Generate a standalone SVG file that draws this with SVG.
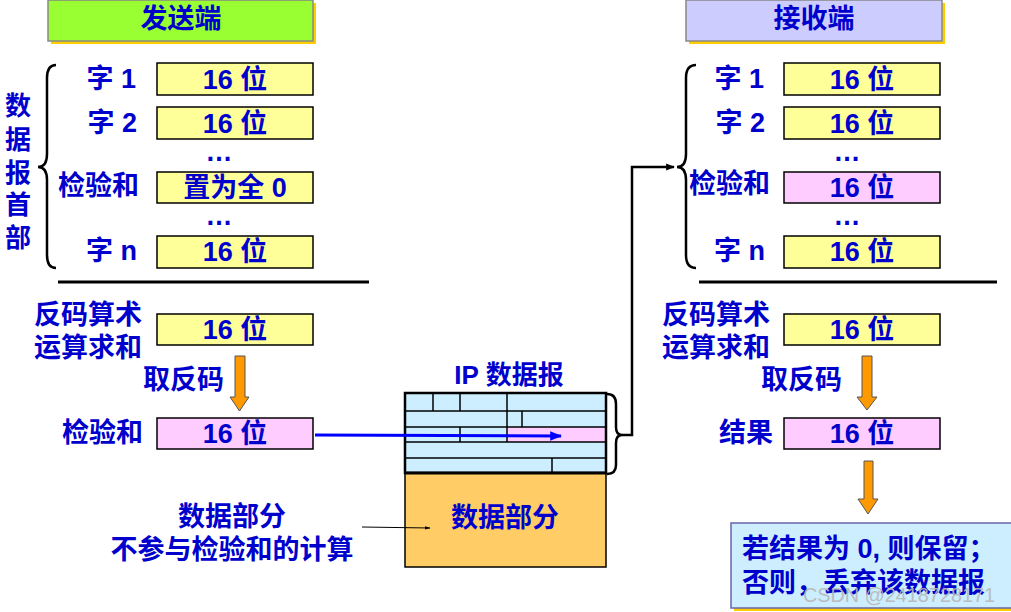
<svg xmlns="http://www.w3.org/2000/svg" width="1011" height="612" viewBox="0 0 1011 612">
  <defs>
    <style>
      .t { font-family: "Liberation Sans", "Noto Sans CJK SC", sans-serif; font-weight: bold; fill: #0000cc; font-size: 27px; dominant-baseline: central; }
      .c { text-anchor: middle; }
      .e { text-anchor: end; }
      .cell { stroke: #000; stroke-width: 1.5; }
      .y { fill: #ffff99; }
      .p { fill: #ffccff; }
      .brace { fill: none; stroke: #000; stroke-width: 2.5; }
      .arrow { fill: #ff9900; stroke: #555; stroke-width: 1; }
      .rule { stroke: #000; stroke-width: 3; }
      .hdr { fill: #cceeff; }
      .grid { stroke: #000; stroke-width: 1.5; fill: none; }
      .wm { font-family: "Liberation Sans", Arial, sans-serif; font-size: 21px; fill: #b8b8b8; opacity: 0.9; }
    </style>
    <marker id="ahBlue" viewBox="0 0 10 10" refX="9" refY="5" markerWidth="4" markerHeight="4" orient="auto">
      <path d="M0,1 L10,5 L0,9 Z" fill="#0000ff"/>
    </marker>
    <marker id="ahBlack" viewBox="0 0 10 10" refX="9" refY="5" markerWidth="6" markerHeight="6" orient="auto">
      <path d="M0,2 L10,5 L0,8 Z" fill="#000"/>
    </marker>
    <marker id="ahBlackThick" viewBox="0 0 10 10" refX="9" refY="5" markerWidth="3.5" markerHeight="3.5" orient="auto">
      <path d="M0,1 L10,5 L0,9 Z" fill="#000"/>
    </marker>
  </defs>

  <rect width="1011" height="612" fill="#ffffff"/>

  <!-- Sender title -->
  <g id="sender-title">
    <rect x="51" y="3" width="265" height="41" fill="#ffcc00"/>
    <rect x="48" y="0" width="265" height="41" fill="#99ff33" stroke="#888" stroke-width="1.5"/>
    <text class="t c" x="181" y="19">发送端</text>
  </g>

  <!-- Receiver title -->
  <g id="receiver-title">
    <rect x="689" y="3" width="256" height="41" fill="#ffcc00"/>
    <rect x="686" y="0" width="256" height="41" fill="#ccccff" stroke="#888" stroke-width="1.5"/>
    <text class="t c" x="814" y="19">接收端</text>
  </g>

  <!-- Sender header words -->
  <g id="sender-header">
    <text class="t c" x="18" y="106" style="font-size:26px">数</text>
    <text class="t c" x="18" y="140" style="font-size:26px">据</text>
    <text class="t c" x="18" y="173" style="font-size:26px">报</text>
    <text class="t c" x="18" y="205" style="font-size:26px">首</text>
    <text class="t c" x="18" y="238" style="font-size:26px">部</text>
    <path class="brace" d="M56,65 Q47,65 47,78 L47,154 Q47,167 38,167 Q47,167 47,180 L47,255 Q47,268 56,268"/>

    <text class="t e" x="136" y="79">字 1</text>
    <rect class="cell y" x="157" y="63" width="156" height="32"/>
    <text class="t c" x="235" y="80">16 位</text>

    <text class="t e" x="137" y="123">字 2</text>
    <rect class="cell y" x="157" y="107" width="156" height="32"/>
    <text class="t c" x="235" y="124">16 位</text>

    <text class="t c" x="219" y="152">…</text>

    <text class="t e" x="139" y="186">检验和</text>
    <rect class="cell y" x="157" y="172" width="156" height="31"/>
    <text class="t c" x="235" y="188">置为全 0</text>

    <text class="t c" x="219" y="216">…</text>

    <text class="t e" x="137" y="251">字 n</text>
    <rect class="cell y" x="157" y="236" width="156" height="32"/>
    <text class="t c" x="235" y="252">16 位</text>

    <line class="rule" x1="58" y1="282" x2="369" y2="282"/>
  </g>

  <!-- Sender checksum computation -->
  <g id="sender-sum">
    <text class="t e" x="142" y="315">反码算术</text>
    <text class="t e" x="142" y="348">运算求和</text>
    <rect class="cell y" x="157" y="314" width="156" height="31"/>
    <text class="t c" x="235" y="330">16 位</text>
    <text class="t e" x="224" y="380">取反码</text>
    <path class="arrow" d="M235,356 L245,356 L245,397 L249,397 L239.5,411 L230,397 L235,397 Z"/>
  </g>

  <g id="sender-checksum">
    <text class="t e" x="143" y="433">检验和</text>
    <rect class="cell p" x="157" y="418" width="156" height="31"/>
    <text class="t c" x="235" y="434">16 位</text>
  </g>

  <g id="data-note">
    <text class="t c" x="232" y="517">数据部分</text>
    <text class="t c" x="232" y="550">不参与检验和的计算</text>
  </g>

  <!-- IP datagram -->
  <g id="ip-datagram">
    <text class="t c" x="509" y="375" style="font-size:26px">IP 数据报</text>
    <rect class="hdr" x="405" y="393" width="201" height="80"/>
    <rect class="p" x="507" y="427" width="99" height="15"/>
    <g class="grid">
      <line x1="405" y1="411" x2="606" y2="411"/>
      <line x1="405" y1="427" x2="606" y2="427"/>
      <line x1="405" y1="442" x2="606" y2="442"/>
      <line x1="405" y1="458" x2="606" y2="458"/>
      <line x1="433" y1="393" x2="433" y2="411"/>
      <line x1="460" y1="393" x2="460" y2="411"/>
      <line x1="507" y1="393" x2="507" y2="427"/>
      <line x1="522" y1="411" x2="522" y2="427"/>
      <line x1="460" y1="427" x2="460" y2="442"/>
      <line x1="507" y1="427" x2="507" y2="442"/>
      <line x1="552" y1="458" x2="552" y2="473"/>
    </g>
    <rect x="405" y="393" width="201" height="80" fill="none" stroke="#000" stroke-width="2.5"/>
    <rect x="405" y="473" width="201" height="94" fill="#ffcc66" stroke="#000" stroke-width="1.5"/>
    <line x1="405" y1="473" x2="606" y2="473" stroke="#000" stroke-width="3"/>
    <text class="t c" x="505" y="518">数据部分</text>
    <path class="brace" d="M607,394 Q616,394 616,404 L616,427 Q616,435 622,435 Q616,435 616,443 L616,465 Q616,474 607,474"/>
  </g>

  <!-- Receiver header words -->
  <g id="receiver-header">
    <path class="brace" d="M696,65 Q686,65 686,78 L686,154 Q686,167 677,167 Q686,167 686,180 L686,255 Q686,268 696,268"/>

    <text class="t e" x="764" y="79">字 1</text>
    <rect class="cell y" x="784" y="63" width="156" height="32"/>
    <text class="t c" x="862" y="80">16 位</text>

    <text class="t e" x="765" y="123">字 2</text>
    <rect class="cell y" x="784" y="107" width="156" height="32"/>
    <text class="t c" x="862" y="124">16 位</text>

    <text class="t c" x="847" y="152">…</text>

    <text class="t e" x="770" y="184">检验和</text>
    <rect class="cell p" x="784" y="172" width="156" height="31"/>
    <text class="t c" x="862" y="188">16 位</text>

    <text class="t c" x="847" y="216">…</text>

    <text class="t e" x="765" y="251">字 n</text>
    <rect class="cell y" x="784" y="236" width="156" height="32"/>
    <text class="t c" x="862" y="252">16 位</text>

    <line class="rule" x1="699" y1="282" x2="997" y2="282"/>
  </g>

  <!-- Receiver verification -->
  <g id="receiver-sum">
    <text class="t e" x="770" y="315">反码算术</text>
    <text class="t e" x="770" y="348">运算求和</text>
    <rect class="cell y" x="784" y="314" width="156" height="31"/>
    <text class="t c" x="862" y="330">16 位</text>
    <text class="t e" x="842" y="380">取反码</text>
    <path class="arrow" d="M862,356 L872,356 L872,397 L877,397 L867,410 L857,397 L862,397 Z"/>
  </g>

  <g id="receiver-result">
    <text class="t e" x="773" y="433">结果</text>
    <rect class="cell p" x="784" y="418" width="156" height="31"/>
    <text class="t c" x="862" y="434">16 位</text>
    <path class="arrow" d="M864,461 L873,461 L873,499 L878,499 L868,514 L858,499 L864,499 Z"/>
  </g>

  <g id="decision">
    <rect x="734" y="526" width="290" height="85" fill="#ffcc00"/>
    <rect x="731" y="523" width="290" height="85" fill="#cceeff" stroke="#6666aa" stroke-width="1.5"/>
    <text class="t" x="742" y="549">若结果为 0, 则保留；</text>
    <text class="t" x="742" y="583">否则，丢弃该数据报</text>
  </g>

  <!-- Connectors -->
  <g id="connectors">
    <line x1="315" y1="435" x2="561" y2="436" stroke="#0000ff" stroke-width="3" marker-end="url(#ahBlue)"/>
    <polyline points="622,435 632,435 632,167 674,167" fill="none" stroke="#000" stroke-width="2.5" marker-end="url(#ahBlackThick)"/>
    <line x1="362" y1="527" x2="430" y2="528" stroke="#000" stroke-width="1" marker-end="url(#ahBlack)"/>
  </g>

  <text class="wm" x="803" y="602" textLength="192" lengthAdjust="spacingAndGlyphs">CSDN @2418728171</text>
</svg>
